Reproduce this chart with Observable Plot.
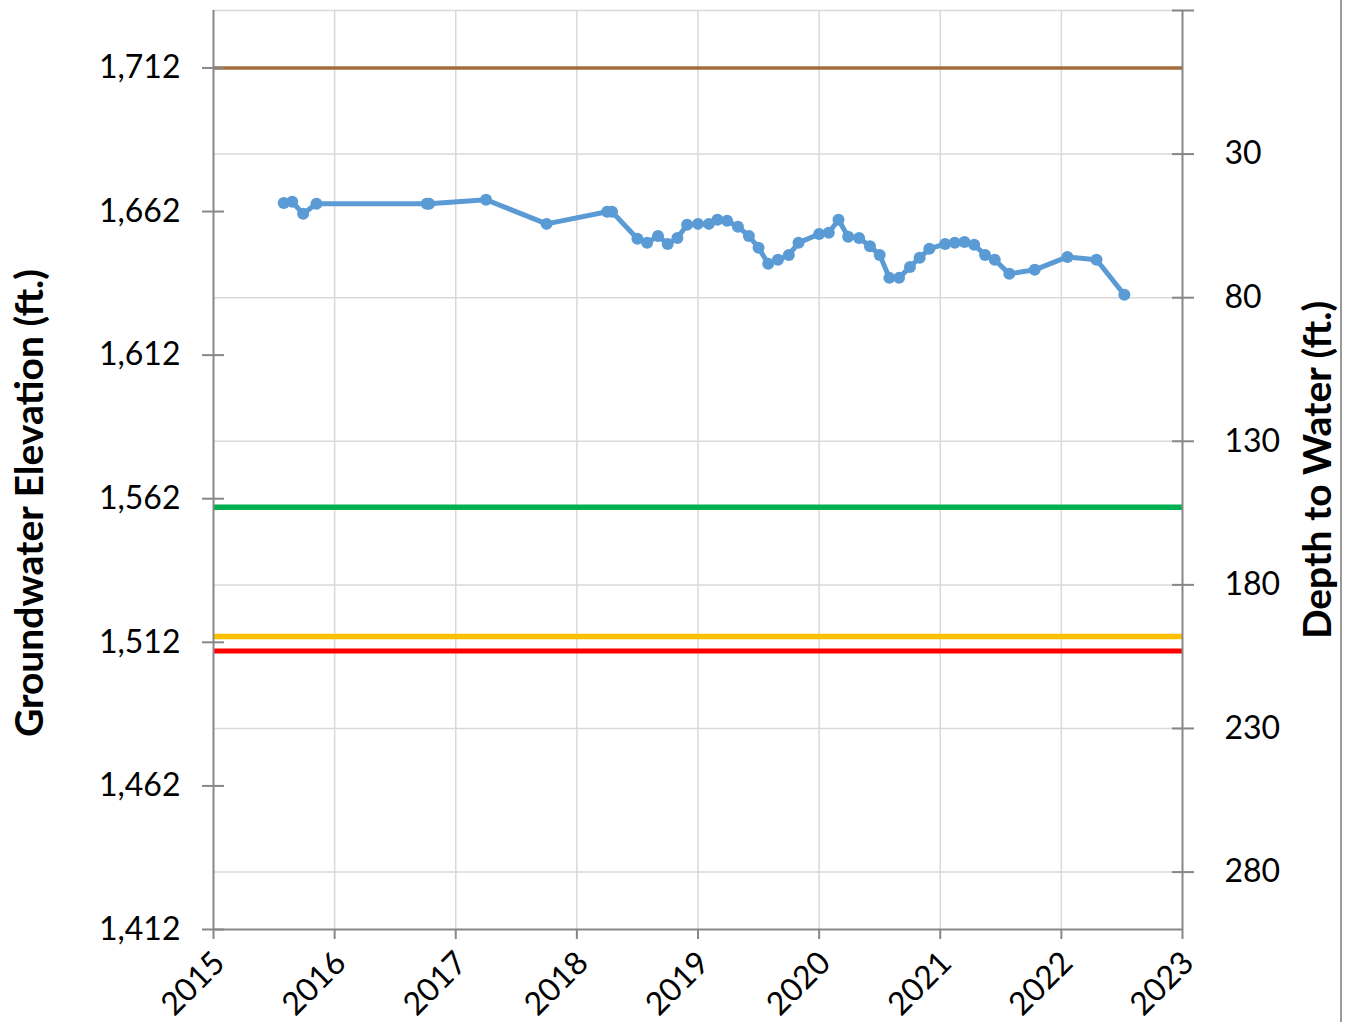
<!DOCTYPE html>
<html><head><meta charset="utf-8">
<script src="https://cdn.jsdelivr.net/npm/d3@7"></script>
<script src="https://cdn.jsdelivr.net/npm/@observablehq/plot@0.6"></script>
<style>
body{margin:0;background:#fff;}
#wrap{position:relative;width:1348px;height:1022px;overflow:hidden;background:#fff;}
#frame{position:absolute;left:1340px;top:0;width:2px;height:1022px;background:#9a9a9a;}
</style></head><body><div id="wrap"><div id="frame"></div></div>
<script>
const sampleYears = [2015.58, 2015.65, 2015.74, 2015.85, 2016.76, 2016.78, 2017.25, 2017.75, 2018.25, 2018.29,
  2018.50, 2018.58, 2018.67, 2018.75, 2018.83, 2018.91, 2019.00, 2019.09, 2019.16, 2019.24,
  2019.33, 2019.42, 2019.50, 2019.58, 2019.66, 2019.75, 2019.83, 2020.00, 2020.08, 2020.16,
  2020.24, 2020.33, 2020.42, 2020.50, 2020.58, 2020.66, 2020.75, 2020.83, 2020.91, 2021.04,
  2021.12, 2021.20, 2021.28, 2021.37, 2021.45, 2021.57, 2021.78, 2022.05, 2022.29, 2022.52];
const elevations = [1665.0, 1665.4, 1661.2, 1664.7, 1664.7, 1664.7, 1666.1, 1657.7, 1661.9, 1661.9,
  1652.5, 1651.1, 1653.5, 1650.7, 1652.8, 1657.4, 1657.7, 1657.7, 1659.1, 1658.8,
  1656.7, 1653.5, 1649.4, 1643.8, 1645.2, 1646.9, 1651.1, 1654.2, 1654.6, 1659.1,
  1653.2, 1652.8, 1649.9, 1646.9, 1638.9, 1638.9, 1642.7, 1645.9, 1649.0, 1650.7,
  1651.1, 1651.4, 1650.4, 1646.9, 1645.2, 1640.3, 1641.7, 1646.2, 1645.2, 1633.0];
const yearTicks = [2015, 2016, 2017, 2018, 2019, 2020, 2021, 2022, 2023];
const elevTicks = [1412, 1462, 1512, 1562, 1612, 1662, 1712];
const depthTicks = [30, 80, 130, 180, 230, 280];
const depthAxisMin = -20;
const groundSurface = 1712;       // brown line
const thresholdGreen = 1559;
const thresholdYellow = 1514;
const thresholdRed = 1509;
const elevDomain = [1412, 1732];
const yearDomain = [2015, 2023];

const samples = sampleYears.map((t, i) => ({year: t, elev: elevations[i]}));
const depthElev = depthTicks.map(d => groundSurface - d);
const depthTickElev = [groundSurface - depthAxisMin, ...depthElev];

const FONT = "Lato, 'Open Sans', sans-serif";
const axisColor = "#878787";
const gridColor = "#d9d9d9";

const chart = Plot.plot({
  width: 1348, height: 1022,
  marginTop: 10, marginBottom: 93, marginLeft: 213, marginRight: 166,
  style: {fontFamily: FONT, fontSize: "32px", color: "#000", background: "#fff"},
  x: {domain: yearDomain},
  y: {domain: elevDomain},
  marks: [
    Plot.gridX(yearTicks.slice(1, -1), {stroke: gridColor, strokeOpacity: 1, strokeWidth: 1.5}),
    Plot.gridY(depthTickElev, {stroke: gridColor, strokeOpacity: 1, strokeWidth: 1.5}),
    Plot.ruleY([groundSurface], {stroke: "#A26D3A", strokeWidth: 3.5}),
    Plot.ruleY([thresholdGreen], {stroke: "#00B050", strokeWidth: 5.5}),
    Plot.ruleY([thresholdYellow], {stroke: "#FFC000", strokeWidth: 5.5}),
    Plot.ruleY([thresholdRed], {stroke: "#FF0000", strokeWidth: 5}),
    // axis lines
    Plot.ruleX(yearDomain, {stroke: axisColor, strokeWidth: 2}),
    Plot.ruleY([elevDomain[0]], {stroke: axisColor, strokeWidth: 2}),
    // left axis: crossing ticks + labels
    Plot.axisY(elevTicks, {anchor: "left", tickSize: 22, dx: 11, tickFormat: () => "", label: null, stroke: axisColor, strokeWidth: 2}),
    Plot.axisY(elevTicks, {anchor: "left", tickSize: 0, tickPadding: 33, tickFormat: d3.format(","), label: null, fontSize: 32, fill: "#000"}),
    // right axis: crossing ticks + labels (depth)
    Plot.axisY(depthTickElev, {anchor: "right", tickSize: 22, dx: -11, tickFormat: () => "", label: null, stroke: axisColor, strokeWidth: 2}),
    Plot.axisY(depthElev, {anchor: "right", tickSize: 0, tickPadding: 42, tickFormat: d => String(groundSurface - d), label: null, fontSize: 32, fill: "#000"}),
    // x axis
    Plot.axisX(yearTicks, {anchor: "bottom", tickSize: 10, tickFormat: () => "", label: null, stroke: axisColor, strokeWidth: 2}),
    Plot.axisX(yearTicks, {anchor: "bottom", tickSize: 0, tickRotate: -45, tickPadding: 28, dx: 6, tickFormat: d => String(d), label: null, fontSize: 32, fill: "#000"}),
    // axis titles
    Plot.text(["Groundwater Elevation (ft.)"], {frameAnchor: "left", textAnchor: "middle", dx: -183, dy: 33, rotate: -90, fontSize: 39, fontWeight: "bold", fill: "#000"}),
    Plot.text(["Depth to Water (ft.)"], {frameAnchor: "right", textAnchor: "middle", dx: 136, rotate: -90, fontSize: 39, fontWeight: "bold", fill: "#000"}),
    // data
    Plot.line(samples, {x: "year", y: "elev", stroke: "#5B9BD5", strokeWidth: 5, strokeLinejoin: "round"}),
    Plot.dot(samples, {x: "year", y: "elev", r: 6, fill: "#5B9BD5", stroke: "none"})
  ]
});
document.getElementById("wrap").appendChild(chart);
</script>
</body></html>
